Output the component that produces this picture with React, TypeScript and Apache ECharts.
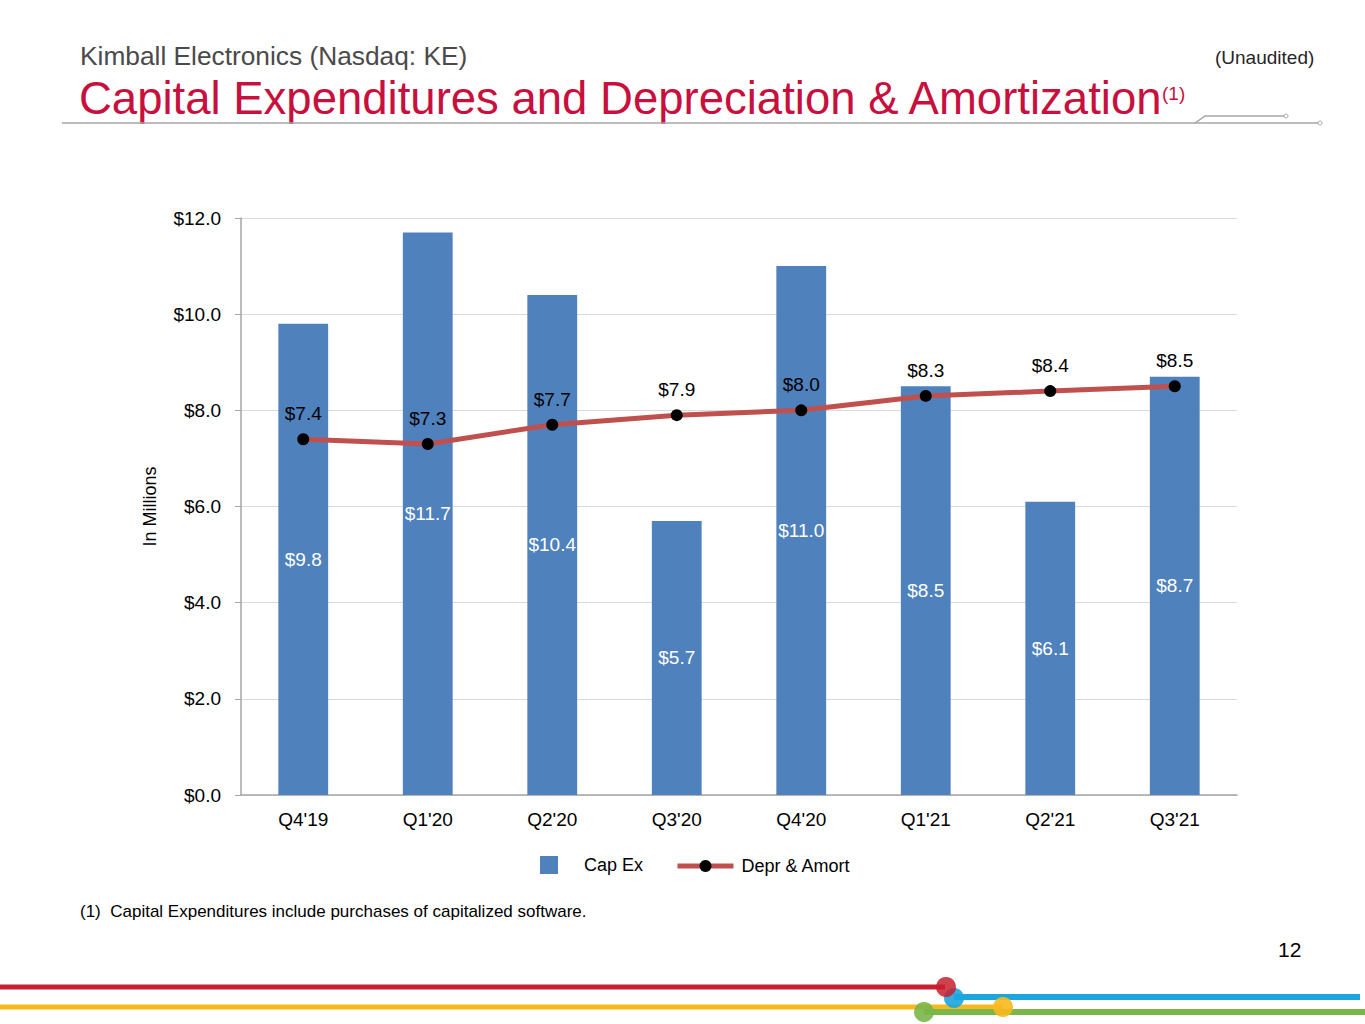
import React, { useEffect, useRef } from 'react';
import * as echarts from 'echarts';

const quarters = ["Q4'19", "Q1'20", "Q2'20", "Q3'20", "Q4'20", "Q1'21", "Q2'21", "Q3'21"];
const capEx = [9.8, 11.7, 10.4, 5.7, 11.0, 8.5, 6.1, 8.7];
const deprAmort = [7.4, 7.3, 7.7, 7.9, 8.0, 8.3, 8.4, 8.5];

const FONT = 'Liberation Sans, Arial, sans-serif';
const RED = '#C8103E';
const money = (v: number) => '$' + v.toFixed(1);

const App: React.FC = () => {
  const chartRef = useRef<HTMLDivElement | null>(null);

  useEffect(() => {
    if (!chartRef.current) return;
    const chart = echarts.init(chartRef.current, null, { renderer: 'svg' });

    const option = {
      animation: false,
      textStyle: { fontFamily: FONT },
      grid: { left: 241, right: 128, top: 218, bottom: 229, containLabel: false },
      legend: [
        {
          data: [{ name: 'Cap Ex', icon: 'rect' }],
          left: 535,
          top: 851,
          itemWidth: 18,
          itemHeight: 18,
          textStyle: { fontSize: 18, color: '#000', fontFamily: FONT, padding: [0, 0, 0, 21] },
        },
        {
          data: ['Depr & Amort'],
          left: 670,
          top: 852,
          itemWidth: 56,
          itemHeight: 15,
          lineStyle: { width: 5 },
          textStyle: { fontSize: 18, color: '#000', fontFamily: FONT, padding: [0, 0, 0, 3] },
        },
      ],
      xAxis: {
        type: 'category',
        data: quarters,
        axisLine: { lineStyle: { color: '#A6A6A6', width: 1.5 } },
        axisTick: { alignWithLabel: true, length: 6, lineStyle: { color: '#A6A6A6' } },
        axisLabel: { fontSize: 19, color: '#000', margin: 15, fontFamily: FONT },
      },
      yAxis: {
        type: 'value',
        min: 0,
        max: 12,
        interval: 2,
        name: 'In Millions',
        nameLocation: 'middle',
        nameGap: 82,
        nameTextStyle: { fontSize: 18, color: '#000', fontFamily: FONT },
        axisLine: { show: true, lineStyle: { color: '#A6A6A6', width: 1.5 } },
        axisTick: { show: true, length: 6, lineStyle: { color: '#A6A6A6' } },
        axisLabel: { fontSize: 19, color: '#000', margin: 20, formatter: money, fontFamily: FONT },
        splitLine: { lineStyle: { color: '#D9D9D9' } },
      },
      series: [
        {
          name: 'Cap Ex',
          type: 'bar',
          data: capEx,
          barWidth: '40%',
          itemStyle: { color: '#4F81BD' },
          label: {
            show: true,
            position: 'inside',
            color: '#fff',
            fontSize: 19,
            fontFamily: FONT,
            formatter: (p: any) => money(p.value),
          },
        },
        {
          name: 'Depr & Amort',
          type: 'line',
          data: deprAmort,
          symbol: 'circle',
          symbolSize: 12,
          itemStyle: { color: '#000' },
          lineStyle: { color: '#C0504D', width: 5 },
          label: {
            show: true,
            position: 'top',
            distance: 10,
            color: '#000',
            fontSize: 19,
            fontFamily: FONT,
            formatter: (p: any) => money(p.value),
          },
          z: 3,
        },
      ],
      graphic: [
        {
          type: 'text',
          left: 80,
          top: 43,
          style: { text: 'Kimball Electronics (Nasdaq: KE)', font: `26.3px ${FONT}`, fill: '#4A4A4A' },
        },
        {
          type: 'text',
          left: 79,
          top: 75,
          style: { text: 'Capital Expenditures and Depreciation & Amortization', font: `45.5px ${FONT}`, fill: RED },
        },
        {
          type: 'text',
          left: 1162,
          top: 84,
          style: { text: '(1)', font: `19px ${FONT}`, fill: RED },
        },
        {
          type: 'text',
          left: 1215,
          top: 48,
          style: { text: '(Unaudited)', font: `19px ${FONT}`, fill: '#262626' },
        },
        // header rule with the little circuit jog
        { type: 'polyline', shape: { points: [[62, 123], [1195, 123], [1205, 116], [1285, 116]] }, style: { stroke: '#A6A6A6', lineWidth: 1.5, fill: null } },
        { type: 'line', shape: { x1: 1195, y1: 123, x2: 1318, y2: 123 }, style: { stroke: '#A6A6A6', lineWidth: 1.5 } },
        { type: 'circle', shape: { cx: 1286, cy: 116, r: 2 }, style: { stroke: '#A6A6A6', fill: '#fff', lineWidth: 1 } },
        { type: 'circle', shape: { cx: 1320, cy: 123, r: 2 }, style: { stroke: '#A6A6A6', fill: '#fff', lineWidth: 1 } },
        {
          type: 'text',
          left: 80,
          top: 903,
          style: { text: '(1)  Capital Expenditures include purchases of capitalized software.', font: `17px ${FONT}`, fill: '#000' },
        },
        {
          type: 'text',
          left: 1278,
          top: 939,
          style: { text: '12', font: `21px ${FONT}`, fill: '#000' },
        },
        // bottom decorative lines
        { type: 'line', shape: { x1: 0, y1: 987, x2: 945, y2: 987 }, style: { stroke: '#C8202F', lineWidth: 5 } },
        { type: 'line', shape: { x1: 0, y1: 1007, x2: 1003, y2: 1007 }, style: { stroke: '#F9B91E', lineWidth: 5 } },
        { type: 'line', shape: { x1: 954, y1: 997, x2: 1360, y2: 997 }, style: { stroke: '#1BA6DE', lineWidth: 6 } },
        { type: 'line', shape: { x1: 924, y1: 1012, x2: 1365, y2: 1012 }, style: { stroke: '#7AB648', lineWidth: 6 } },
        { type: 'circle', shape: { cx: 924, cy: 1012, r: 10 }, style: { fill: '#7AB648', opacity: 0.9 } },
        { type: 'circle', shape: { cx: 1003, cy: 1007, r: 10 }, style: { fill: '#F9B91E', opacity: 0.9 } },
        { type: 'circle', shape: { cx: 954, cy: 998, r: 10 }, style: { fill: '#1BA6DE', opacity: 0.9 } },
        { type: 'circle', shape: { cx: 946, cy: 987, r: 10 }, style: { fill: '#C8202F', opacity: 0.85 } },
      ],
    };

    chart.setOption(option);
    return () => {
      chart.dispose();
    };
  }, []);

  return (
    <div
      ref={chartRef}
      style={{ position: 'absolute', left: 0, top: 0, width: '1365px', height: '1024px', background: '#fff' }}
    />
  );
};

export default App;
